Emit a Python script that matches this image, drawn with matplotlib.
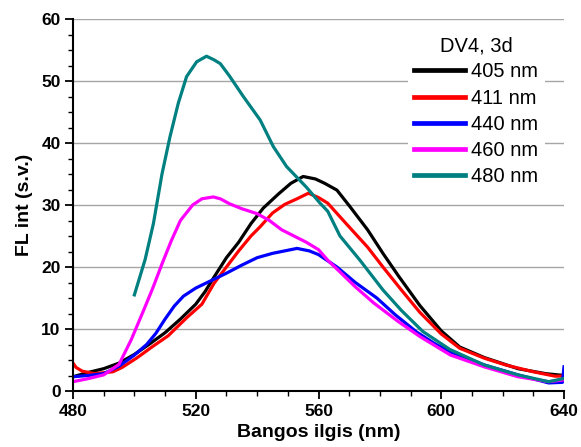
import matplotlib
matplotlib.use("Agg")
import matplotlib.pyplot as plt
from matplotlib.ticker import MultipleLocator

# ---- data ----
x_405 = [480, 485, 490, 495, 500, 505, 510, 515, 520, 523, 526, 530, 534, 538, 542, 547, 551, 555, 559, 562, 566, 570, 576, 581, 586, 593, 600, 606, 614, 625, 634, 640]
y_405 = [2.3, 3.0, 3.6, 4.5, 5.9, 7.6, 9.4, 11.6, 14.0, 16.0, 18.4, 21.5, 24.0, 27.0, 29.5, 31.8, 33.5, 34.6, 34.2, 33.5, 32.4, 29.9, 26.0, 22.2, 18.6, 13.8, 9.7, 7.1, 5.4, 3.6, 2.8, 2.5]

x_411 = [480, 481, 483, 487, 493, 496, 501, 506, 511, 517, 522, 526, 530, 534, 538, 541, 545, 549, 553, 556.7, 560, 563, 569, 576, 581, 587, 593, 600, 606, 614, 621, 630, 637, 639.5, 640]
y_411 = [4.5, 3.8, 3.2, 2.8, 3.1, 3.8, 5.4, 7.2, 8.9, 11.8, 14.0, 17.4, 20.0, 22.6, 25.0, 26.5, 28.7, 30.1, 31.0, 31.9, 31.2, 30.3, 27.0, 23.2, 20.0, 16.3, 12.7, 9.2, 6.9, 5.3, 4.2, 3.1, 2.4, 2.4, 3.0]

x_440 = [480, 485, 490, 495, 500, 504, 507, 510, 513, 516, 520, 525, 530, 535, 540, 545, 550, 553, 557, 560, 563, 566, 572, 579, 585, 592, 598, 603, 614, 625, 635, 639.5, 640]
y_440 = [2.3, 2.5, 2.8, 4.0, 5.8, 7.5, 9.3, 11.6, 13.7, 15.3, 16.6, 17.8, 19.0, 20.3, 21.5, 22.2, 22.7, 23.0, 22.6, 22.0, 21.0, 20.0, 17.5, 15.0, 12.3, 9.5, 7.6, 6.3, 4.2, 2.6, 1.3, 1.4, 3.9]

x_460 = [480, 485, 490, 495, 499, 503, 506, 509, 512, 515, 519, 522, 525.7, 528, 531, 535, 540, 544, 548, 552, 556, 560, 563, 567, 572, 578, 586, 593, 603, 614, 625, 635, 640]
y_460 = [1.5, 2.0, 2.6, 4.3, 8.3, 13.0, 16.6, 20.5, 24.2, 27.5, 30.0, 31.0, 31.3, 31.0, 30.2, 29.4, 28.6, 27.5, 26.0, 25.0, 24.0, 22.8, 21.1, 19.2, 16.8, 14.2, 11.2, 8.8, 5.8, 3.9, 2.3, 1.5, 1.8]

x_480 = [500, 503.5, 506.2, 509, 511.6, 514.3, 517, 520.3, 523.5, 526, 528, 531, 535.5, 541, 545.3, 549.6, 556, 560.5, 563, 567, 573.5, 581, 587, 594, 602.8, 614, 625, 635, 639.8]
y_480 = [15.5, 21.2, 27.0, 35.0, 41.0, 46.4, 50.7, 53.1, 54.0, 53.4, 52.8, 50.8, 47.5, 43.7, 39.4, 36.2, 32.9, 30.3, 29.0, 25.0, 21.1, 16.3, 13.0, 9.6, 6.7, 4.2, 2.6, 1.5, 2.0]

labels = ["405 nm", "411 nm", "440 nm", "460 nm", "480 nm"]
colors = ["#000000", "#ff0000", "#0000ff", "#ff00ff", "#008080"]
legend_title = "DV4, 3d"
x_label = "Bangos ilgis (nm)"
y_label = "FL int (s.v.)"

plt.rcParams['font.family'] = ['Liberation Sans', 'DejaVu Sans']

fig = plt.figure(figsize=(5.81, 4.47), dpi=100)
ax = fig.add_axes([73/581, 56/447, (564-73)/581, (391-19)/447])

series = [(x_405, y_405), (x_411, y_411), (x_440, y_440), (x_460, y_460), (x_480, y_480)]
for (xs, ys), lab, col in zip(series, labels, colors):
    ax.plot(xs, ys, color=col, lw=2.3, label=lab, solid_joinstyle='round')

ax.set_xlim(480, 640)
ax.set_ylim(0, 60)
ax.xaxis.set_major_locator(MultipleLocator(40))
ax.xaxis.set_minor_locator(MultipleLocator(10))
ax.yaxis.set_major_locator(MultipleLocator(10))
ax.yaxis.set_minor_locator(MultipleLocator(2.5))

ax.grid(axis='y', which='major', color='#a6a6a6', lw=1.0)
ax.set_axisbelow(True)
for s in ['top', 'right']:
    ax.spines[s].set_visible(False)
for s in ['left', 'bottom']:
    ax.spines[s].set_linewidth(1.5)
ax.tick_params(which='major', direction='out', length=6, width=1.3, labelsize=12.5, pad=3)
ax.tick_params(which='minor', direction='out', length=3.5, width=1.0)
for t in ax.get_xticklabels() + ax.get_yticklabels():
    t.set_fontweight('bold')

ax.set_xlabel(x_label, fontsize=14, fontweight='bold', labelpad=4)
ax.set_ylabel(y_label, fontsize=14, fontweight='bold', labelpad=6)

leg = ax.legend(title=legend_title, loc='upper right', bbox_to_anchor=(0.981, 0.997),
                frameon=True, fontsize=14.5, title_fontsize=14.5,
                handlelength=2.55, handletextpad=0.3, labelspacing=0.36,
                borderpad=0.3, facecolor='white', edgecolor='none', framealpha=1)
leg.get_frame().set_linewidth(0)
for line in leg.get_lines():
    line.set_linewidth(3.4)

fig.savefig("out.png", dpi=100)
